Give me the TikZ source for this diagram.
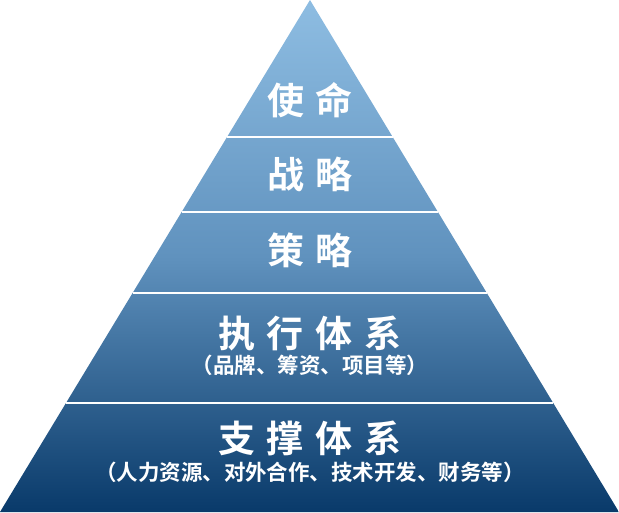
\documentclass[tikz,border=0pt]{standalone}
\usepackage{fontspec}
\newfontfamily\cjk{Noto Sans CJK SC}[BoldFont={Noto Sans CJK SC Bold}]
\usetikzlibrary{calc}
\tikzset{
  title/.style={text=white, font=\cjk\bfseries\fontsize{37}{40}\selectfont, inner sep=0pt, anchor=center},
  subtitle/.style={text=white, font=\cjk\bfseries\fontsize{21.5}{23}\selectfont, inner sep=0pt, anchor=center},
  divider/.style={draw=white, line width=2.2pt}
}
\newcommand{\gp}{\hspace{12pt}}
\begin{document}
\begin{tikzpicture}[x=1pt,y=-1pt]
\useasboundingbox (0,0) rectangle (619,512);
\coordinate (apex) at (310,0);
\coordinate (bl) at (0,512);
\coordinate (br) at (619,512);
\shade[top color={rgb,255:red,142;green,189;blue,226}, bottom color={rgb,255:red,9;green,58;blue,106}, middle color={rgb,255:red,96;green,146;blue,190}] (apex) -- (br) -- (bl) -- cycle;
\foreach \yy/\nm in {137/a,212/b,293/c,403/d}{
  \coordinate (l\nm) at ($(apex)!\yy/512!(bl)$);
  \coordinate (r\nm) at ($(apex)!\yy/512!(br)$);
  \draw[divider] (l\nm) -- (r\nm);
}
\node[title] (t1) at (310,100) {使\gp 命};
\node[title] (t2) at (310,174) {战\gp 略};
\node[title] (t3) at (310,250) {策\gp 略};
\node[title] (t4) at (310,333) {执\gp 行\gp 体\gp 系};
\node[subtitle] (s4) at (310,365) {（品牌、筹资、项目等）};
\node[title] (t5) at (310,438) {支\gp 撑\gp 体\gp 系};
\node[subtitle] (s5) at (310,472) {（人力资源、对外合作、技术开发、财务等）};
\end{tikzpicture}
\end{document}
